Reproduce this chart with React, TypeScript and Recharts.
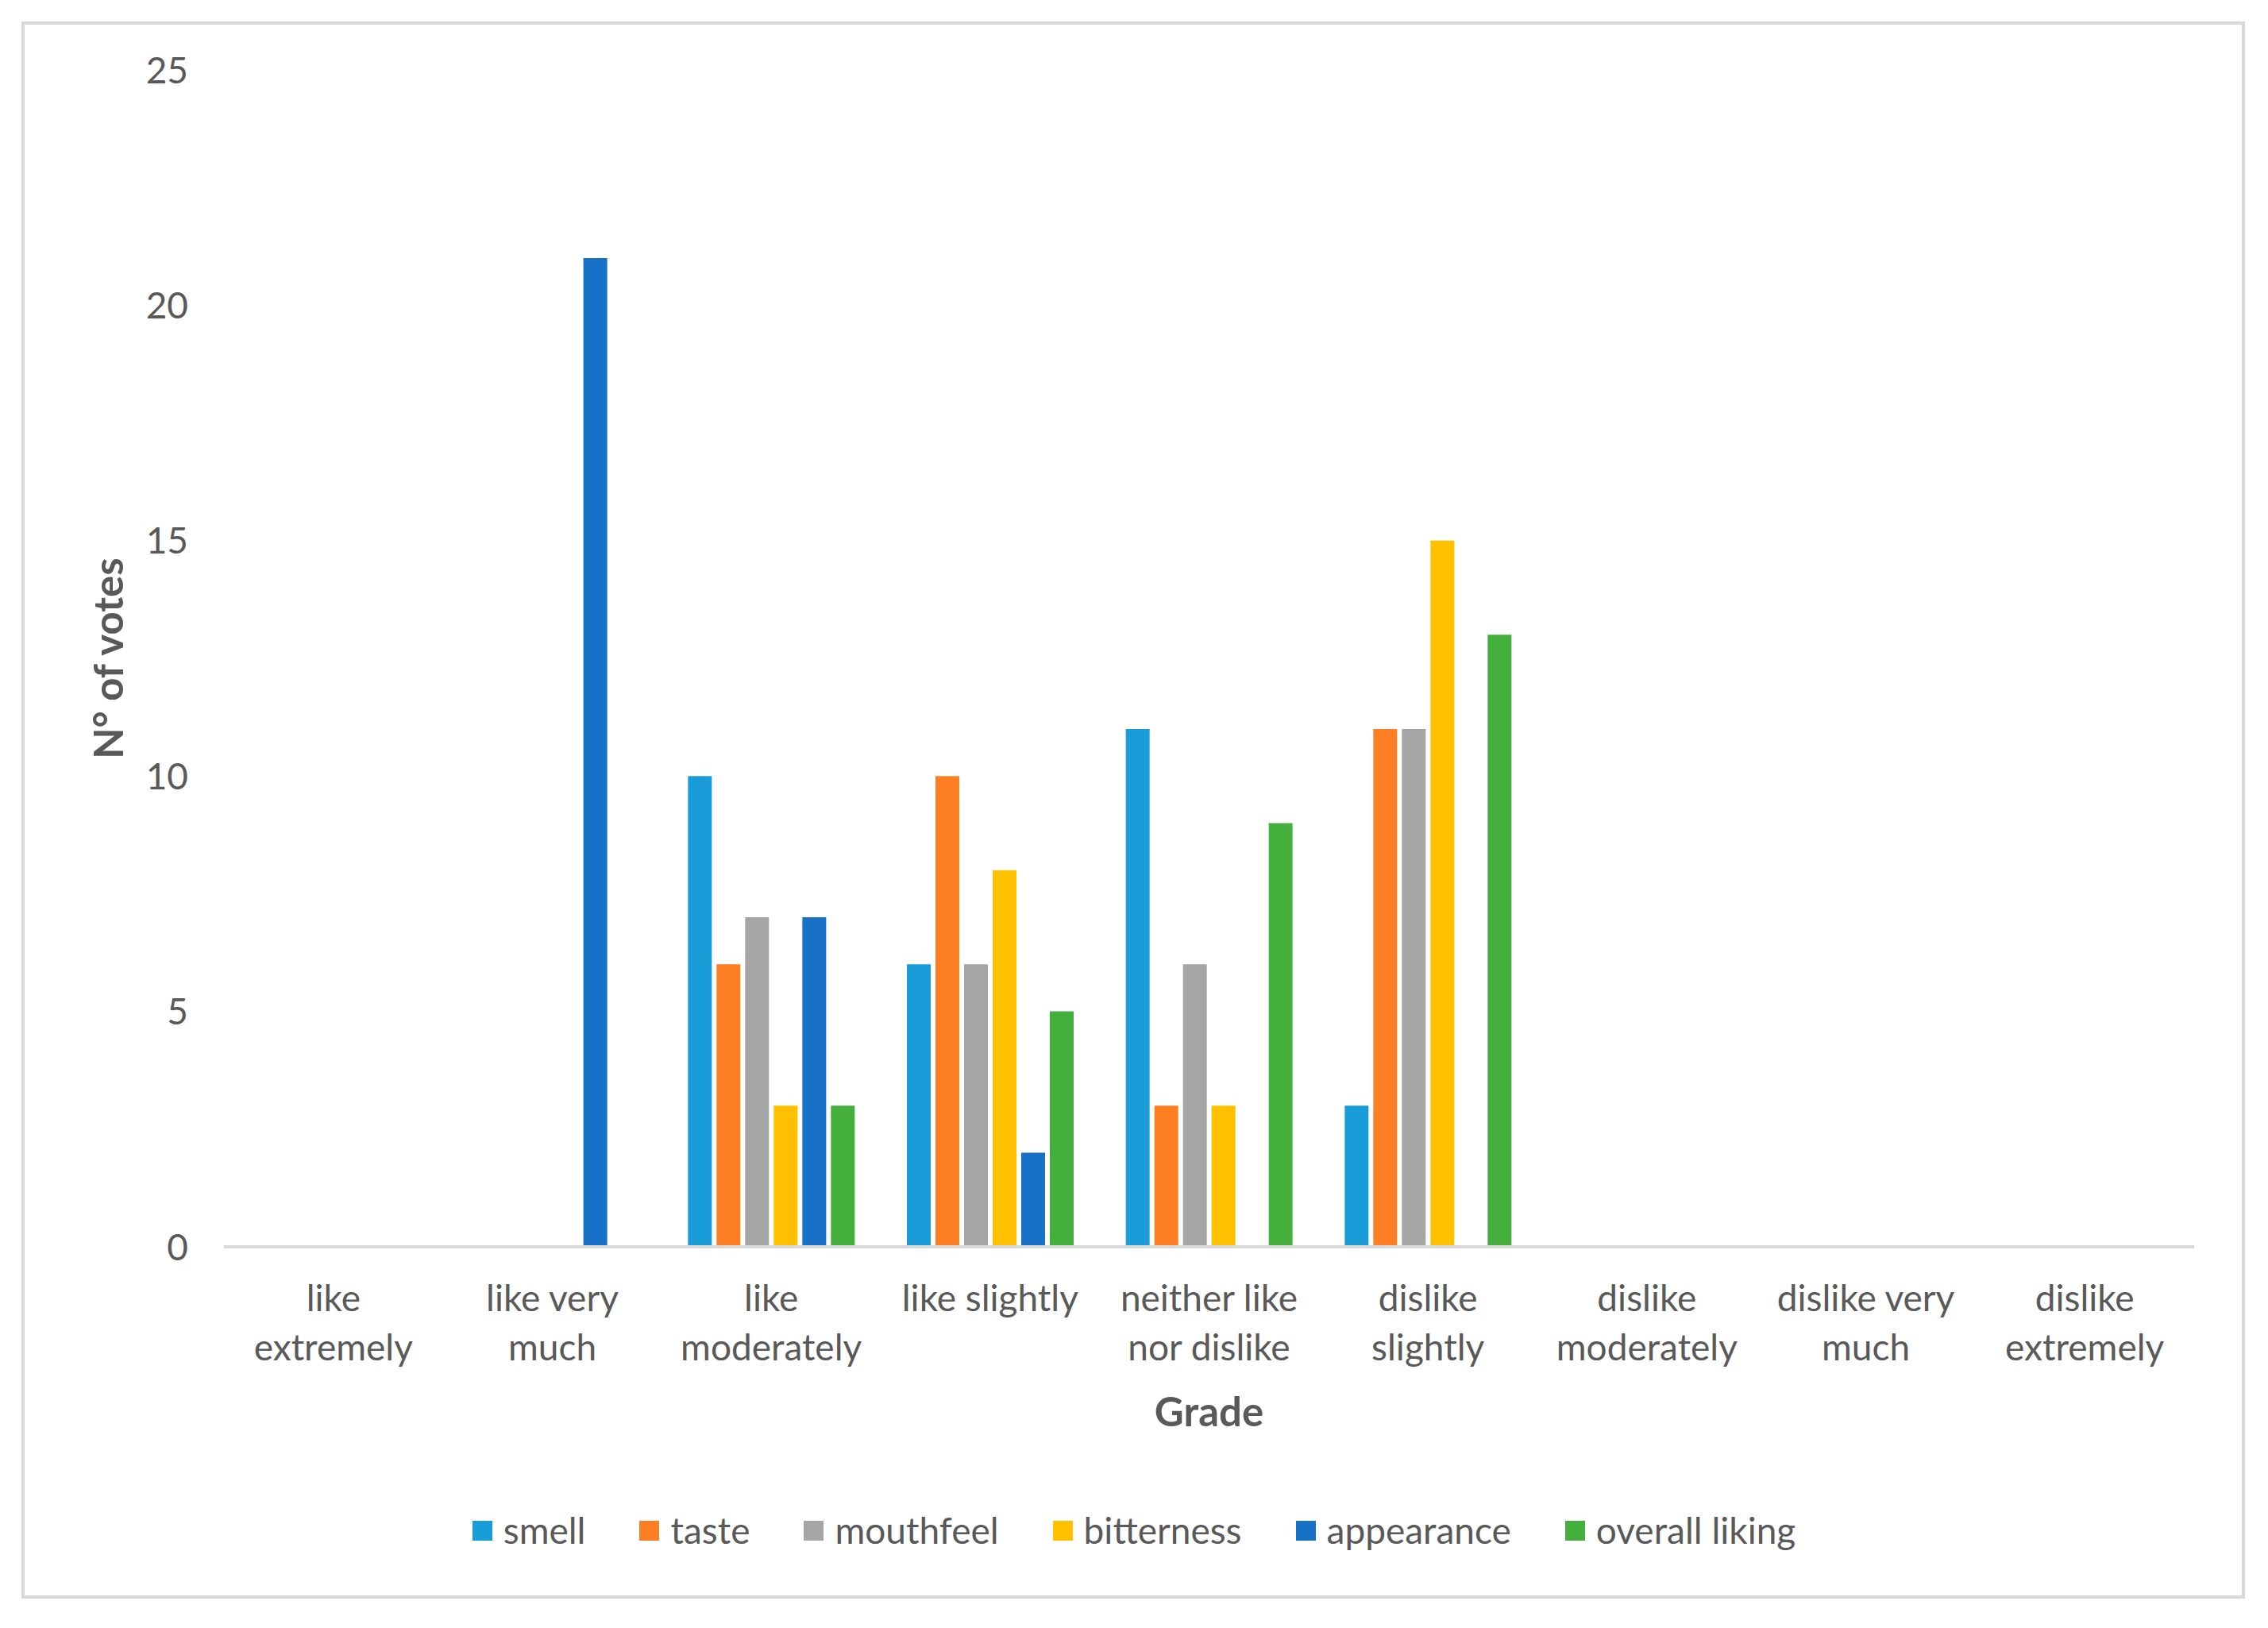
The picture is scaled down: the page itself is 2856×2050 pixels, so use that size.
import React from "react";
import { BarChart, Bar, XAxis, YAxis, Legend } from "recharts";

const categories = [
  "like extremely",
  "like very much",
  "like moderately",
  "like slightly",
  "neither like nor dislike",
  "dislike slightly",
  "dislike moderately",
  "dislike very much",
  "dislike extremely",
];

const smell = [0, 0, 10, 6, 11, 3, 0, 0, 0];
const taste = [0, 0, 6, 10, 3, 11, 0, 0, 0];
const mouthfeel = [0, 0, 7, 6, 6, 11, 0, 0, 0];
const bitterness = [0, 0, 3, 8, 3, 15, 0, 0, 0];
const appearance = [0, 21, 7, 2, 0, 0, 0, 0, 0];
const overallLiking = [0, 0, 3, 5, 9, 13, 0, 0, 0];

const yTicks = [0, 5, 10, 15, 20, 25];

const seriesNames = ["smell", "taste", "mouthfeel", "bitterness", "appearance", "overall liking"];
const seriesValues = [smell, taste, mouthfeel, bitterness, appearance, overallLiking];
const seriesColors = ["#1A9CD8", "#FD7E23", "#A5A5A5", "#FFC000", "#1671C7", "#44AF3C"];

const data = categories.map((c, i) => {
  const row: any = { category: c };
  seriesNames.forEach((n, k) => {
    row[n] = seriesValues[k][i];
  });
  return row;
});

const FONT = "Lato, 'Open Sans', sans-serif";
const TEXT = "#595959";

function wrap(label: string, max: number): string[] {
  const words = label.split(" ");
  const lines: string[] = [];
  let cur = "";
  for (const w of words) {
    const next = cur ? cur + " " + w : w;
    if (next.length > max && cur) {
      lines.push(cur);
      cur = w;
    } else {
      cur = next;
    }
  }
  if (cur) lines.push(cur);
  return lines;
}

const XTick = (props: any) => {
  const { x, y, payload } = props;
  const lines = wrap(String(payload.value), 13);
  return (
    <g>
      {lines.map((ln, i) => (
        <text
          key={i}
          x={x}
          y={y + 64 + i * 62}
          dy="0.36em"
          textAnchor="middle"
          fill={TEXT}
          fontSize={46}
          fontFamily={FONT}
        >
          {ln}
        </text>
      ))}
    </g>
  );
};

const YTick = (props: any) => {
  const { x, y, payload } = props;
  return (
    <text x={x} y={y} dy="0.36em" textAnchor="end" fill={TEXT} fontSize={46} fontFamily={FONT}>
      {payload.value}
    </text>
  );
};

const LegendContent = (props: any) => {
  const payload = [...(props.payload || [])].sort(
    (a: any, b: any) => seriesNames.indexOf(a.value) - seriesNames.indexOf(b.value)
  );
  return (
    <div
      style={{
        height: 60,
        display: "flex",
        justifyContent: "center",
        alignItems: "center",
        gap: 68,
        fontFamily: FONT,
      }}
    >
      {payload.map((p: any) => (
        <div key={p.value} style={{ display: "flex", alignItems: "center" }}>
          <div style={{ width: 25, height: 25, background: p.color, marginRight: 14 }} />
          <span style={{ fontSize: 46, color: TEXT, lineHeight: "60px" }}>{p.value}</span>
        </div>
      ))}
    </div>
  );
};

export default function App() {
  return (
    <div
      style={{
        position: "absolute",
        left: 0,
        top: 0,
        width: 2856,
        height: 2050,
        background: "#ffffff",
        fontFamily: FONT,
      }}
    >
      <div
        style={{
          position: "absolute",
          left: 27,
          top: 27,
          width: 2800,
          height: 1986,
          border: "4px solid #D9D9D9",
          boxSizing: "border-box",
        }}
      />
      <div style={{ position: "absolute", left: 0, top: 0 }}>
        <BarChart
          width={2856}
          height={2050}
          data={data}
          margin={{ top: 88, right: 93, left: 0, bottom: 170 }}
          barSize={30}
          barGap={6}
        >
          <XAxis
            dataKey="category"
            height={250}
            tickLine={false}
            tickSize={0}
            tickMargin={0}
            axisLine={{ stroke: "#D9D9D9", strokeWidth: 4 }}
            tick={<XTick />}
            interval={0}
            label={{
              content: (p: any) => {
                const vb = p.viewBox;
                return (
                  <text
                    x={vb.x + vb.width / 2}
                    y={vb.y + 208}
                    dy="0.36em"
                    textAnchor="middle"
                    fill={TEXT}
                    fontSize={51}
                    fontWeight="bold"
                    fontFamily={FONT}
                  >
                    Grade
                  </text>
                );
              },
            }}
          />
          <YAxis
            width={282}
            domain={[0, 25]}
            ticks={yTicks}
            axisLine={false}
            tickLine={false}
            tickSize={0}
            tickMargin={45}
            tick={<YTick />}
            label={{
              content: (p: any) => {
                const vb = p.viewBox;
                const cx = 137;
                const cy = vb.y + vb.height / 2;
                return (
                  <text
                    x={cx}
                    y={cy}
                    dy="0.36em"
                    textAnchor="middle"
                    fill={TEXT}
                    fontSize={51}
                    fontWeight="bold"
                    fontFamily={FONT}
                    transform={`rotate(-90 ${cx} ${cy})`}
                  >
                    N° of votes
                  </text>
                );
              },
            }}
          />
          <Legend
            verticalAlign="bottom"
            content={<LegendContent />}
            wrapperStyle={{ left: 0, width: 2856, top: 1897, bottom: "auto" }}
          />
          {seriesNames.map((n, k) => (
            <Bar key={n} dataKey={n} name={n} fill={seriesColors[k]} isAnimationActive={false} />
          ))}
        </BarChart>
      </div>
    </div>
  );
}
